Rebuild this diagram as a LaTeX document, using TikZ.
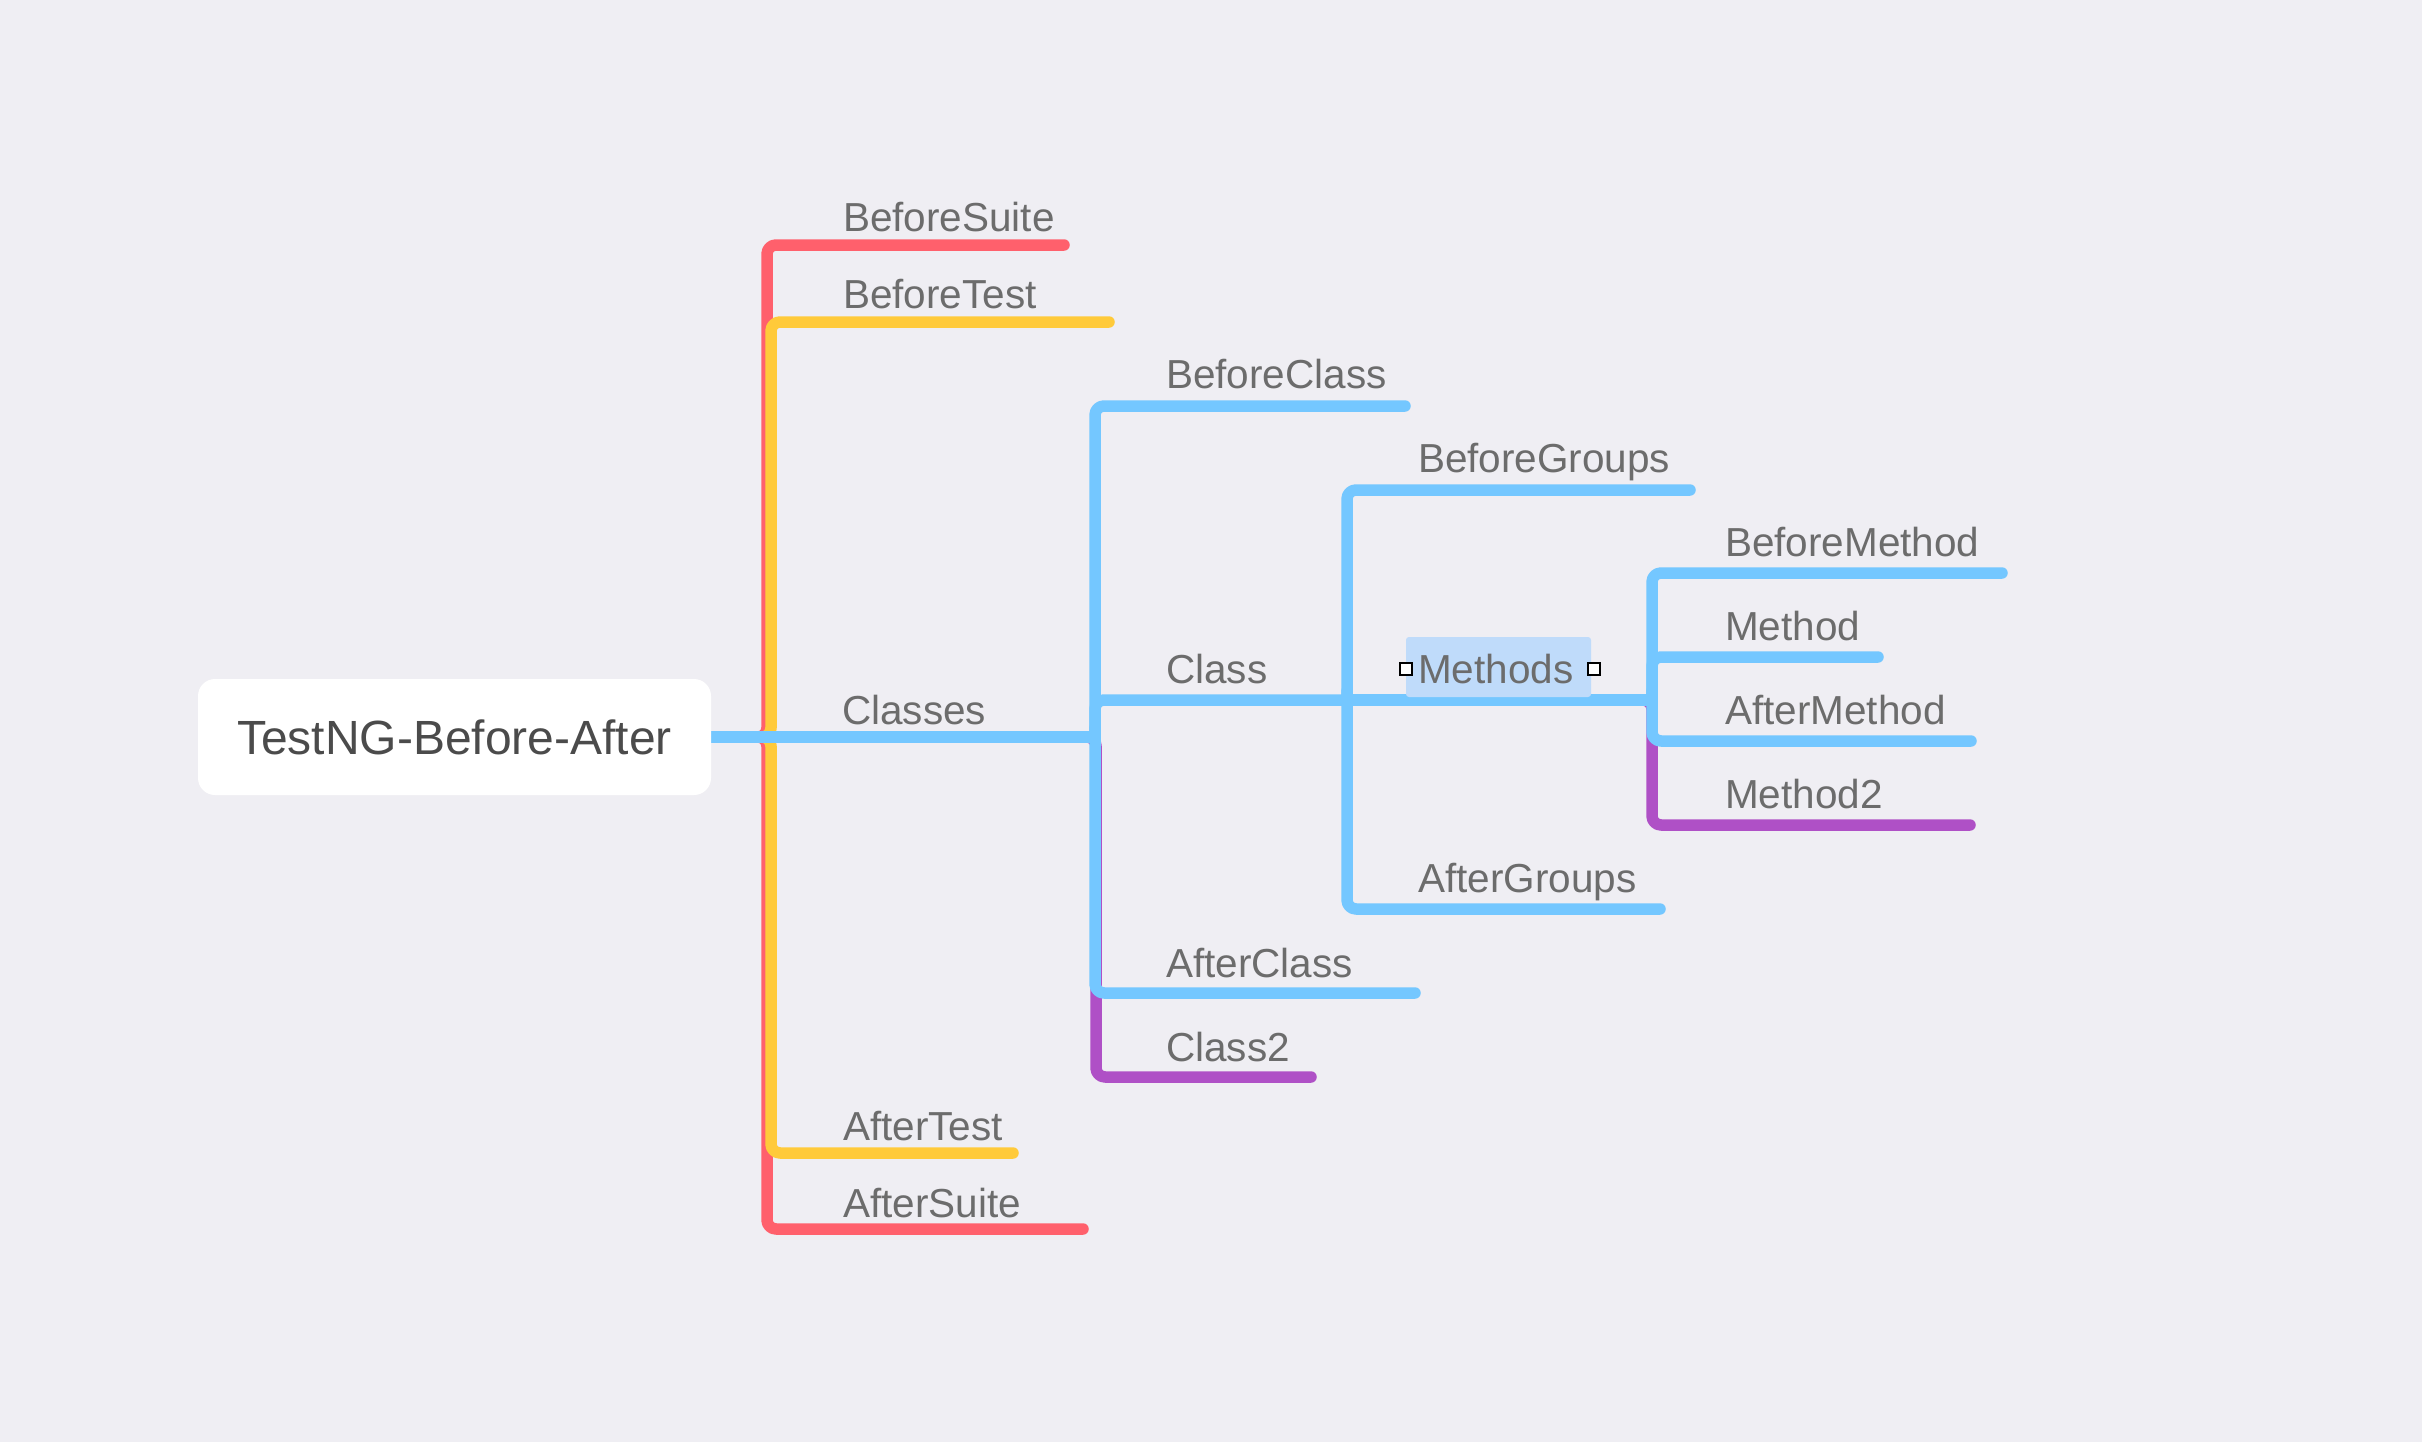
\documentclass[tikz,border=0pt]{standalone}
\usepackage{fontspec}
\setmainfont{Liberation Sans}
\definecolor{bg}{HTML}{EFEEF3}
\definecolor{cred}{HTML}{FF606C}
\definecolor{cyel}{HTML}{FFCA3A}
\definecolor{cblue}{HTML}{74C7FF}
\definecolor{cpurp}{HTML}{AF50C6}
\definecolor{ctext}{HTML}{6C6C6C}
\definecolor{croot}{HTML}{4B4B4B}
\definecolor{chl}{HTML}{BFDBFA}
\pgfdeclarelayer{back}
\pgfdeclarelayer{lines}
\pgfsetlayers{back,lines,main}
\tikzset{
  br/.style={line width=11.5pt, line cap=round, line join=round, rounded corners=9pt},
  redbr/.style={br, draw=cred},
  yelbr/.style={br, draw=cyel},
  bluebr/.style={br, draw=cblue},
  purbr/.style={br, draw=cpurp},
  lbl/.style={inner sep=0pt, outer sep=0pt, anchor=base west, text=ctext, font=\fontsize{40.5}{48}\selectfont},
  rootbox/.style={fill=white, rounded corners=17pt, minimum width=513pt, minimum height=116pt, inner sep=0pt, outer sep=0pt, text=croot, font=\fontsize{48}{56}\selectfont},
  handle/.style={draw=black, fill=white, line width=2.5pt, minimum size=12pt, inner sep=0pt},
}
\begin{document}
\begin{tikzpicture}[x=1pt, y=-1pt]
\useasboundingbox (0,0) rectangle (2422,1442);
\begin{pgfonlayer}{back}
\fill[bg] (0,0) rectangle (2422,1442);
\end{pgfonlayer}

% root
\node[rootbox] (root) at (454.5,737) {TestNG-Before-After};

% text nodes
\node[lbl] (bsuite) at (843,232) {BeforeSuite};
\node[lbl] (btest) at (843,308) {BeforeTest};
\node[lbl] (classes) at (842,724) {Classes};
\node[lbl] (bclass) at (1166,388) {BeforeClass};
\node[lbl] (class) at (1166,683) {Class};
\node[lbl] (bgroups) at (1418,472) {BeforeGroups};
\node[lbl] (bmethod) at (1725,556) {BeforeMethod};
\node[lbl] (method) at (1725,640) {Method};
\node[lbl] (amethod) at (1725,724) {AfterMethod};
\node[lbl] (method2) at (1725,808) {Method2};
\node[lbl] (agroups) at (1418,892) {AfterGroups};
\node[lbl] (aclass) at (1166,977) {AfterClass};
\node[lbl] (class2) at (1166,1061) {Class2};
\node[lbl] (atest) at (843,1140) {AfterTest};
\node[lbl] (asuite) at (843,1217) {AfterSuite};

% line ends
\coordinate (bsuite-e) at (1064,245);
\coordinate (btest-e) at (1109,322);
\coordinate (classes-e) at (1095,737);
\coordinate (bclass-e) at (1405,406);
\coordinate (class-e) at (1347,700);
\coordinate (bgroups-e) at (1690,490);
\coordinate (methods-e) at (1652,700);
\coordinate (bmethod-e) at (2002,573);
\coordinate (method-e) at (1878,657);
\coordinate (amethod-e) at (1971,741);
\coordinate (method2-e) at (1970,825);
\coordinate (agroups-e) at (1660,909);
\coordinate (aclass-e) at (1415,993);
\coordinate (class2-e) at (1311,1077);
\coordinate (atest-e) at (1013,1153);
\coordinate (asuite-e) at (1083,1229);

\begin{pgfonlayer}{lines}
% red
\draw[redbr] (root.east) -- (767,737) -- (767,245) -- (bsuite-e);
\draw[redbr] (root.east) -- (767,737) -- (767,1229) -- (asuite-e);
% yellow
\draw[yelbr] (root.east) -- (771,737) -- (771,322) -- (btest-e);
\draw[yelbr] (root.east) -- (771,737) -- (771,1153) -- (atest-e);
% purple
\draw[purbr] (classes-e) -- (1096,737) -- (1096,1077) -- (class2-e);
\draw[purbr] (class-e) -- (1652,700) -- (1652,825) -- (method2-e);
% blue
\draw[bluebr] (root.east) -- (classes-e);
\draw[bluebr] (classes-e) -- (1095,737) -- (1095,406) -- (bclass-e);
\draw[bluebr] (classes-e) -- (1095,737) -- (1095,700) -- (class-e);
\draw[bluebr] (classes-e) -- (1095,737) -- (1095,993) -- (aclass-e);
\draw[bluebr] (class-e) -- (1347,700) -- (1347,490) -- (bgroups-e);
\draw[bluebr] (class-e) -- (methods-e);
\draw[bluebr] (class-e) -- (1347,700) -- (1347,909) -- (agroups-e);
\draw[bluebr] (methods-e) -- (1652,700) -- (1652,573) -- (bmethod-e);
\draw[bluebr] (methods-e) -- (1652,700) -- (1652,657) -- (method-e);
\draw[bluebr] (methods-e) -- (1652,700) -- (1652,741) -- (amethod-e);
\end{pgfonlayer}

% selected node Methods
\fill[chl, rounded corners=3pt] (1406,637) rectangle (1591,697);
\node[lbl] (methods) at (1418,683) {Methods};
\node[handle] (hl) at (1406,669) {};
\node[handle] (hr) at (1594,669) {};
\end{tikzpicture}
\end{document}
